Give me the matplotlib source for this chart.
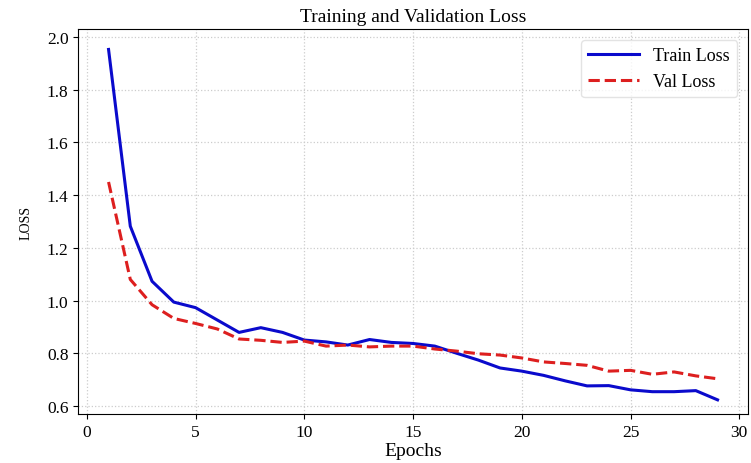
import matplotlib.pyplot as plt

# Loss values per epoch
epochs = list(range(1, 30))
train_loss = [1.953, 1.282, 1.073, 0.994, 0.973, 0.926, 0.879, 0.897, 0.879, 0.850,
              0.843, 0.831, 0.852, 0.841, 0.837, 0.827, 0.800, 0.774, 0.744, 0.732,
              0.716, 0.695, 0.676, 0.677, 0.661, 0.654, 0.654, 0.658, 0.623]
val_loss = [1.450, 1.080, 0.984, 0.932, 0.913, 0.892, 0.854, 0.849, 0.841, 0.846,
            0.827, 0.831, 0.824, 0.827, 0.827, 0.816, 0.808, 0.798, 0.793, 0.782,
            0.767, 0.761, 0.754, 0.732, 0.735, 0.720, 0.729, 0.714, 0.703]

plt.rcParams['font.family'] = ['Liberation Serif', 'DejaVu Serif']

fig = plt.figure(figsize=(7.51, 4.64), dpi=100)
ax = fig.add_axes([0.104, 0.106, 0.892, 0.829])

ax.plot(epochs, train_loss, color='#0a0acc', linewidth=2.2, label='Train Loss')
ax.plot(epochs, val_loss, color='#dd1f1f', linewidth=2.2, linestyle='--', label='Val Loss')

ax.set_title('Training and Validation Loss', fontsize=14)
ax.set_xlabel('Epochs', fontsize=14, labelpad=2)
ax.set_ylabel('LOSS', fontsize=10, labelpad=10)
ax.set_xlim(-0.4, 30.4)
ax.set_ylim(0.57, 2.03)
ax.set_xticks([0, 5, 10, 15, 20, 25, 30])
ax.set_yticks([0.6, 0.8, 1.0, 1.2, 1.4, 1.6, 1.8, 2.0])
ax.tick_params(labelsize=12.5)
ax.grid(True, linestyle=':', color='#cccccc', linewidth=0.9)
ax.legend(loc='upper right', fontsize=13, framealpha=0.8, edgecolor='#dddddd',
          handlelength=2.8, borderaxespad=0.6)

fig.savefig('out.png', dpi=100)
